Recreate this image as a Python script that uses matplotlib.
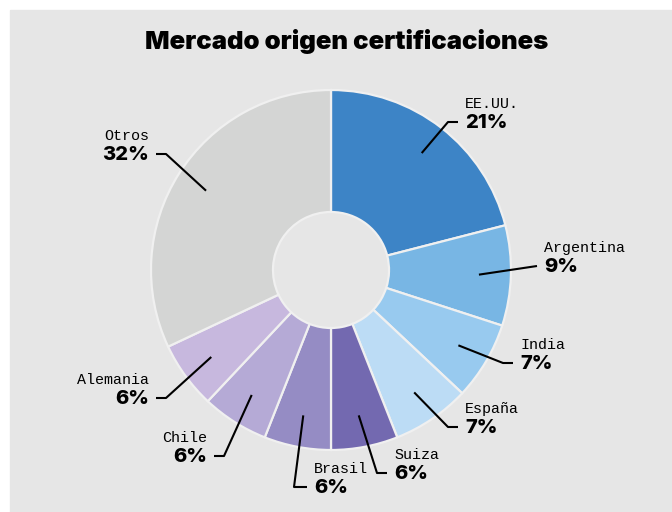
import numpy as np
import matplotlib.pyplot as plt
from matplotlib.patches import Rectangle

# data
paises = ["EE.UU.", "Argentina", "India", "España", "Suiza", "Brasil", "Chile", "Alemania", "Otros"]
porcentajes = [21, 9, 7, 7, 6, 6, 6, 6, 32]
colores = ["#3d84c6", "#78b6e4", "#98caef", "#bcdcf5", "#7369b0",
           "#958cc4", "#b5aad6", "#c7b8de", "#d4d5d4"]

# label elbows (pixel coords, y from top) and which side the text goes
codos = [(448, 122), (537, 266), (503, 363), (448, 427), (377, 473),
         (294, 487), (224, 456), (166, 398), (166, 154)]
lados = [1, 1, 1, 1, 1, 1, -1, -1, -1]

W, H = 672, 512
fig = plt.figure(figsize=(6.72, 5.12), dpi=100, facecolor="white")
fig.patches.append(Rectangle((10 / W, 0), (W - 10) / W, (H - 10) / H,
                             transform=fig.transFigure, color="#e6e6e6", zorder=-10))
ax = fig.add_axes([0, 0, 1, 1])
ax.set_facecolor("none")

cx, cy = 331, H - 270
r = 180
ax.pie(porcentajes, colors=colores, startangle=90, counterclock=False,
       center=(cx, cy), radius=r,
       wedgeprops=dict(width=r - 58, edgecolor="#f0f0f0", linewidth=1.6))
ax.set_xlim(0, W)
ax.set_ylim(0, H)
ax.set_aspect("equal")
ax.axis("off")

acum = np.cumsum([0] + porcentajes[:-1])
for nombre, v, a, (ex, ey), lado in zip(paises, porcentajes, acum, codos, lados):
    ang = np.deg2rad(90 - 3.6 * (a + v / 2))
    sx, sy = cx + 148 * np.cos(ang), cy + 148 * np.sin(ang)
    ey = H - ey
    fx = ex + 10 * lado
    if nombre == "Argentina":
        fx = ex
    if nombre == "Brasil":
        fx = ex + 13
    ax.plot([sx, ex, fx], [sy, ey, ey], color="black", lw=1.5, solid_capstyle="butt")
    tx = fx + 7 * lado
    ha = "left" if lado > 0 else "right"
    ax.text(tx, ey - 1, f"{v}%", ha=ha, va="center", fontsize=14.5,
            fontweight=800, family="Inter")
    ax.text(tx, ey + 18, nombre, ha=ha, va="center", fontsize=10.8,
            family="Liberation Mono")

fig.text(0.516, 1 - 41 / H, "Mercado origen certificaciones", ha="center", va="center",
         fontsize=18.5, fontweight=900, family="Inter")

fig.savefig("out.png", dpi=100, facecolor=fig.get_facecolor())
